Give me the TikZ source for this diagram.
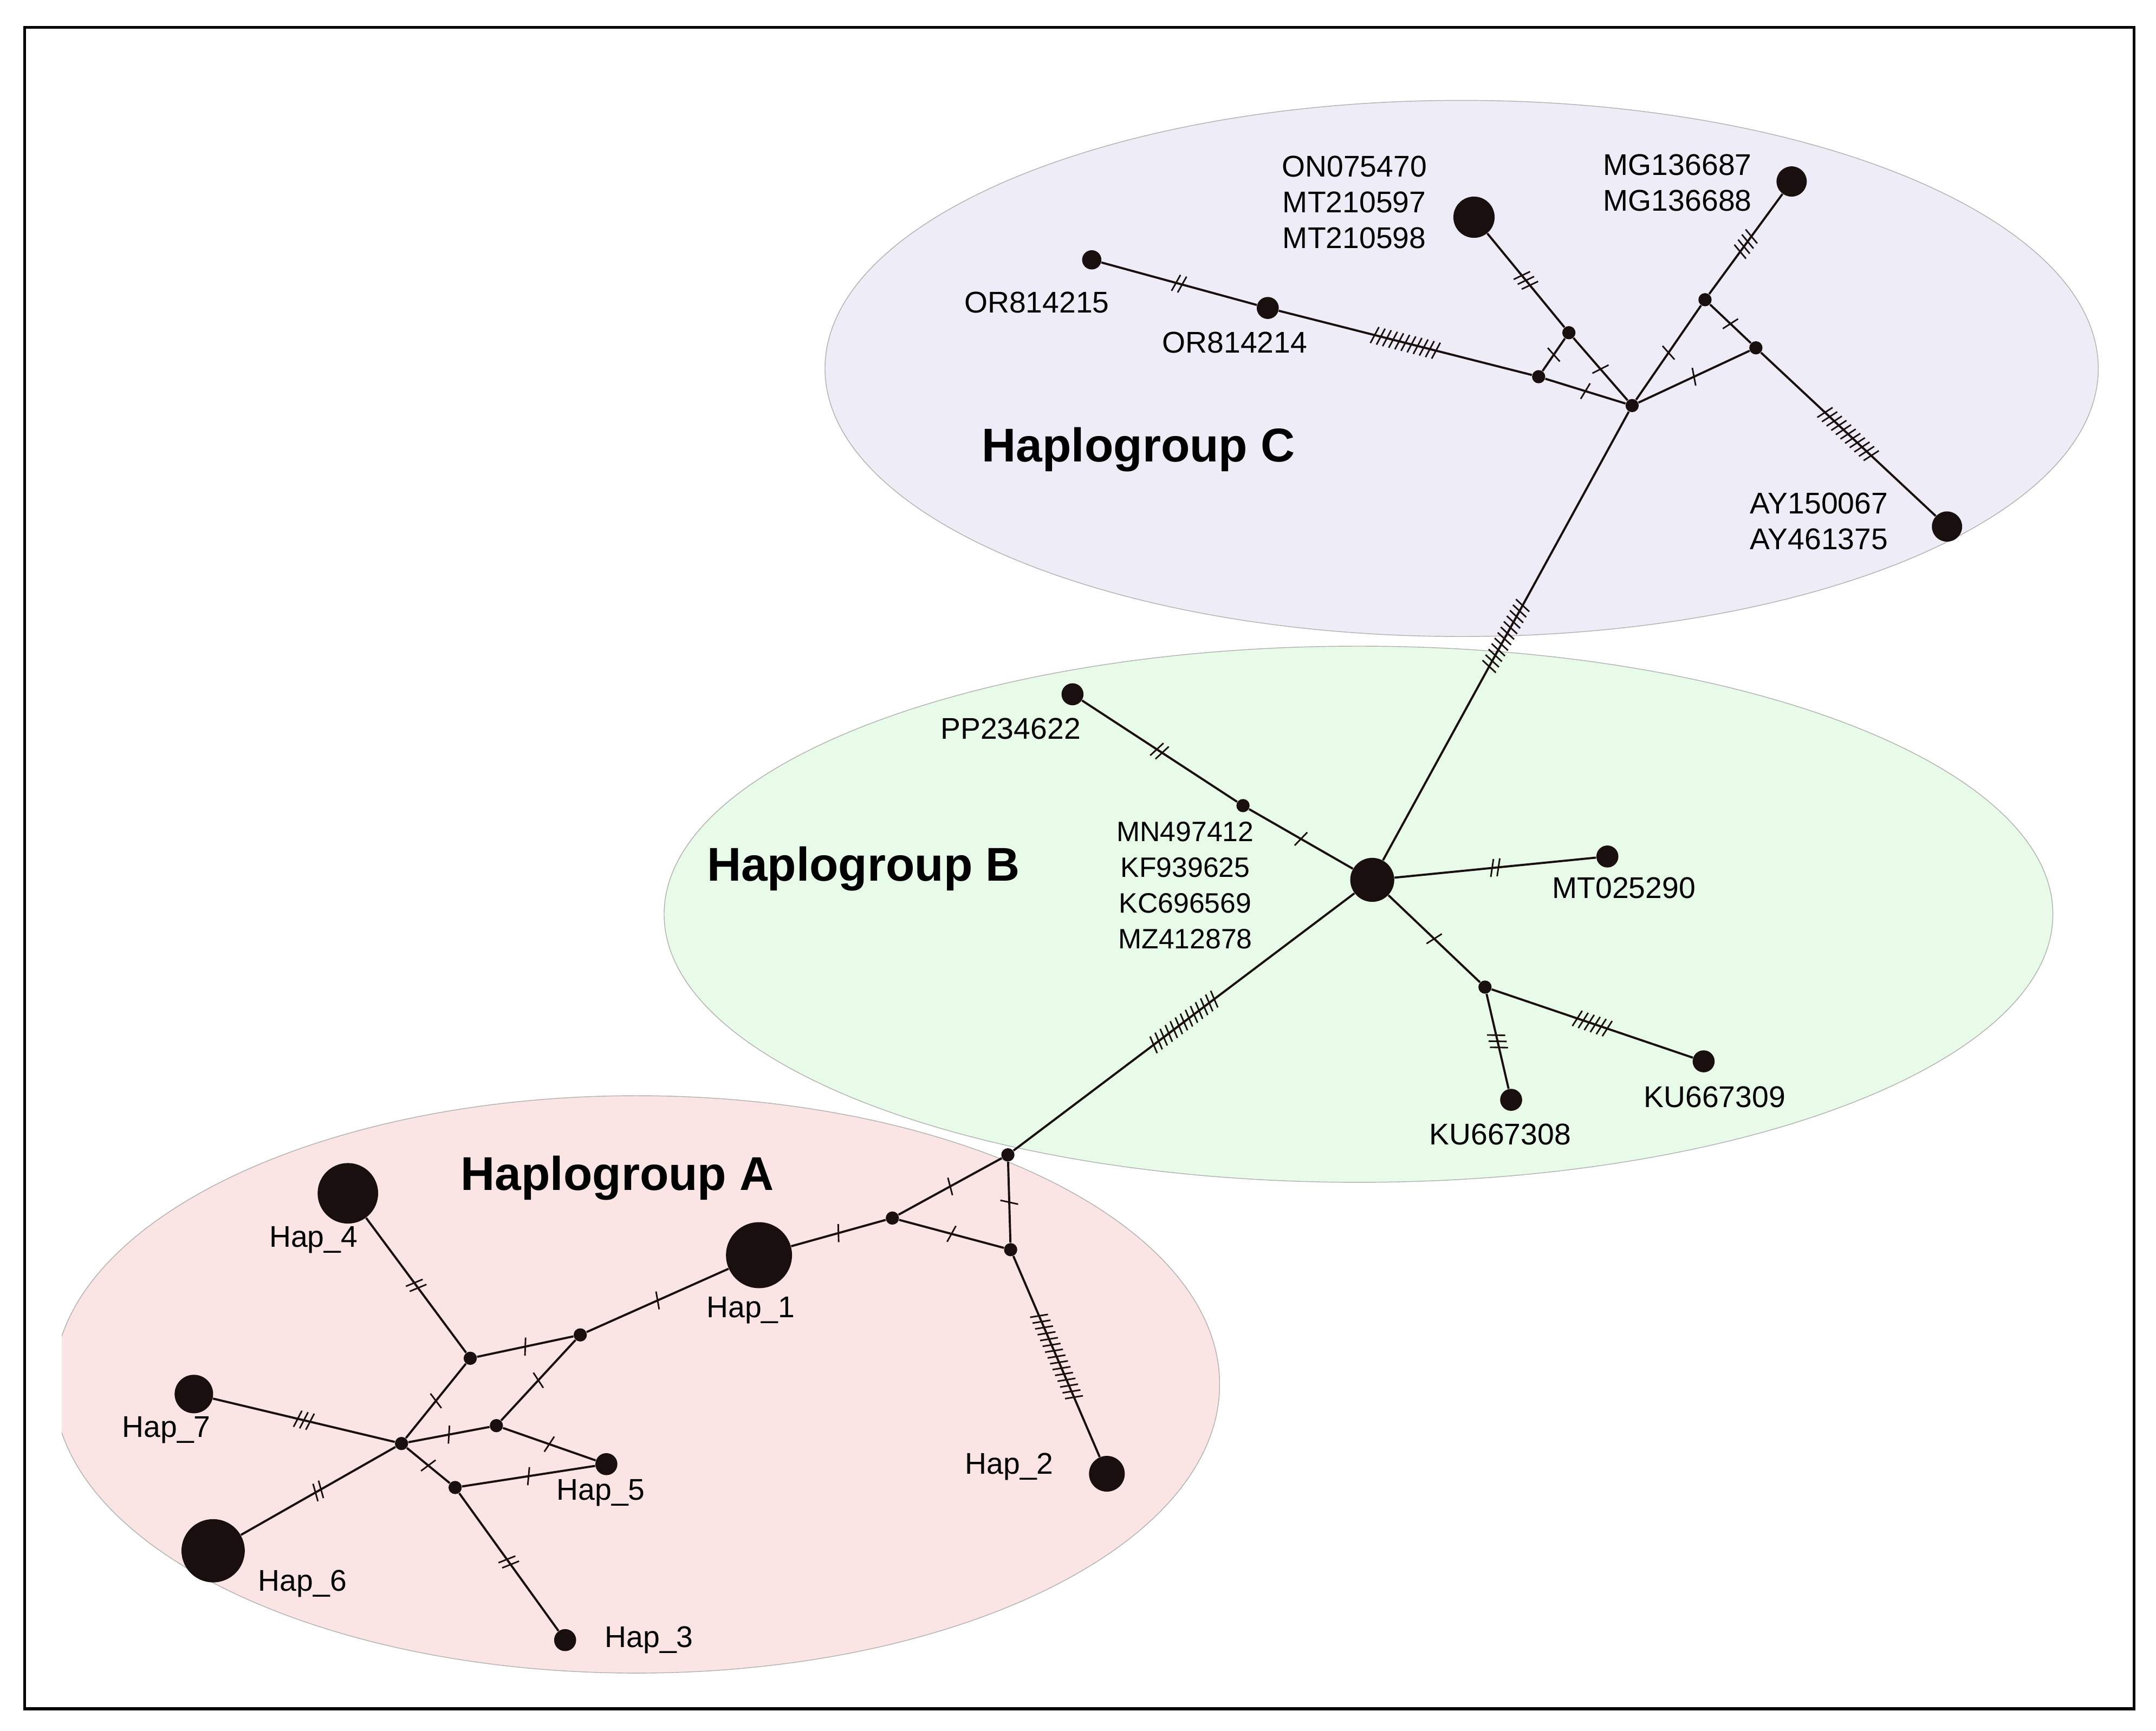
\documentclass[tikz,border=0pt]{standalone}
\usepackage{fontspec}
\setmainfont{Liberation Sans}
\usetikzlibrary{decorations.markings}
\definecolor{hapC}{RGB}{238,236,246}
\definecolor{hapB}{RGB}{232,250,232}
\definecolor{hapA}{RGB}{250,228,228}
\definecolor{dotc}{RGB}{25,15,15}
\begin{document}
\begin{tikzpicture}[x=0.025cm,y=-0.025cm,
  hap/.style={circle,fill=dotc,inner sep=0pt,minimum size=#1*0.05cm},
  mv/.style={circle,fill=dotc,inner sep=0pt,minimum size=0.24cm},
  lbl/.style={font=\fontsize{15.5}{18.5}\selectfont,align=center},
  grp/.style={font=\fontsize{24.5}{28}\selectfont\bfseries},
  e/.style={line width=1.1pt,draw=dotc},
  t/.style={postaction={decorate,decoration={markings,mark=at position 0.5 with {
     \foreach \i in {1,...,#1}{\draw[line width=0.8pt] ({(\i-(#1+1)/2)*0.115cm-0.04cm},-0.16cm) -- ++(0.08cm,0.32cm);}}}}}]
\useasboundingbox (0,0) rectangle (1568,1259);
\fill[white] (0,0) rectangle (1568,1259);
% ellipses
\draw[fill=hapC,draw=gray!60] (1063,268) ellipse [x radius=463,y radius=195];
\draw[fill=hapB,draw=gray!60] (988,665) ellipse [x radius=505,y radius=195];
\begin{scope}
\clip (45,700) rectangle (1000,1259);
\draw[fill=hapA,draw=gray!60] (463,1007) ellipse [x radius=424,y radius=210];
\end{scope}
\draw[line width=1.5pt] (18,20) rectangle (1552,1243);
% C nodes
\node[hap=7] (c1) at (794,189) {};
\node[hap=8] (c2) at (922,224) {};
\node[hap=15] (c3) at (1072,158) {};
\node[hap=11] (c4) at (1303,132) {};
\node[hap=11] (c5) at (1416,383) {};
\node[mv] (m1) at (1141,242) {};
\node[mv] (m2) at (1119,274) {};
\node[mv] (m3) at (1187,295) {};
\node[mv] (m4) at (1240,218) {};
\node[mv] (m5) at (1277,253) {};
% B nodes
\node[hap=16] (b0) at (998,640) {};
\node[hap=8] (b1) at (780,505) {};
\node[hap=8] (b2) at (1169,623) {};
\node[mv] (b3) at (1080,718) {};
\node[hap=8] (b4) at (1099,800) {};
\node[hap=8] (b5) at (1239,772) {};
\node[mv] (bm) at (904,586) {};
% A nodes
\node[mv] (a0) at (733,840) {};
\node[hap=24] (a1) at (552,913) {};
\node[hap=13] (a2) at (805,1072) {};
\node[hap=8] (a3) at (411,1193) {};
\node[hap=22] (a4) at (253,868) {};
\node[hap=8] (a5) at (441,1065) {};
\node[hap=23] (a6) at (155,1128) {};
\node[hap=14] (a7) at (141,1014) {};
\node[mv] (n1) at (649,886) {};
\node[mv] (n2) at (735,909) {};
\node[mv] (n3) at (422,971) {};
\node[mv] (n4) at (342,988) {};
\node[mv] (n5) at (292,1050) {};
\node[mv] (n6) at (361,1037) {};
\node[mv] (n7) at (331,1082) {};
% edges C
\draw[e,t=2] (c1) -- (c2);
\draw[e,t=11] (c2) -- (m2);
\draw[e,t=3] (c3) -- (m1);
\draw[e,t=1] (m1) -- (m2);
\draw[e,t=1] (m1) -- (m3);
\draw[e,t=1] (m2) -- (m3);
\draw[e,t=1] (m3) -- (m4);
\draw[e,t=4] (m4) -- (c4);
\draw[e,t=1] (m4) -- (m5);
\draw[e,t=1] (m3) -- (m5);
\draw[e,t=11] (m5) -- (c5);
\draw[e,t=12] (m3) -- (b0);
% edges B
\draw[e,t=2] (b1) -- (bm);
\draw[e,t=1] (bm) -- (b0);
\draw[e,t=2] (b0) -- (b2);
\draw[e,t=1] (b0) -- (b3);
\draw[e,t=3] (b3) -- (b4);
\draw[e,t=6] (b3) -- (b5);
\draw[e,t=13] (b0) -- (a0);
% edges A
\draw[e,t=1] (a0) -- (n1);
\draw[e,t=1] (a0) -- (n2);
\draw[e,t=1] (n1) -- (n2);
\draw[e,t=1] (n1) -- (a1);
\draw[e,t=15] (n2) -- (a2);
\draw[e,t=1] (a1) -- (n3);
\draw[e,t=1] (n3) -- (n4);
\draw[e,t=1] (n3) -- (n6);
\draw[e,t=2] (n4) -- (a4);
\draw[e,t=1] (n4) -- (n5);
\draw[e,t=3] (n5) -- (a7);
\draw[e,t=2] (n5) -- (a6);
\draw[e,t=1] (n5) -- (n6);
\draw[e,t=1] (n6) -- (a5);
\draw[e,t=1] (n5) -- (n7);
\draw[e,t=1] (n7) -- (a5);
\draw[e,t=2] (n7) -- (a3);
% labels
\node[lbl] (l1) at (754,220) {OR814215};
\node[lbl] (l2) at (898,249) {OR814214};
\node[lbl] (l3) at (985,147) {ON075470\\MT210597\\MT210598};
\node[lbl] (l4) at (1220,133) {MG136687\\MG136688};
\node[lbl] (l5) at (1323,379) {AY150067\\AY461375};
\node[lbl] (l6) at (735,530) {PP234622};
\node[lbl,font=\fontsize{14.5}{18.5}\selectfont] (l7) at (862,644) {MN497412\\KF939625\\KC696569\\MZ412878};
\node[lbl] (l8) at (1181,646) {MT025290};
\node[lbl] (l9) at (1091,825) {KU667308};
\node[lbl] (l10) at (1247,798) {KU667309};
\node[grp] (gC) at (828,327) {Haplogroup C};
\node[grp] (gB) at (628,632) {Haplogroup B};
\node[grp] (gA) at (449,857) {Haplogroup A};
\node[lbl] (h4) at (228,902) {Hap\_4};
\node[lbl] (h1) at (546,953) {Hap\_1};
\node[lbl] (h7) at (121,1040) {Hap\_7};
\node[lbl] (h5) at (437,1086) {Hap\_5};
\node[lbl] (h2) at (734,1067) {Hap\_2};
\node[lbl] (h6) at (220,1152) {Hap\_6};
\node[lbl] (h3) at (472,1193) {Hap\_3};
\end{tikzpicture}
\end{document}
